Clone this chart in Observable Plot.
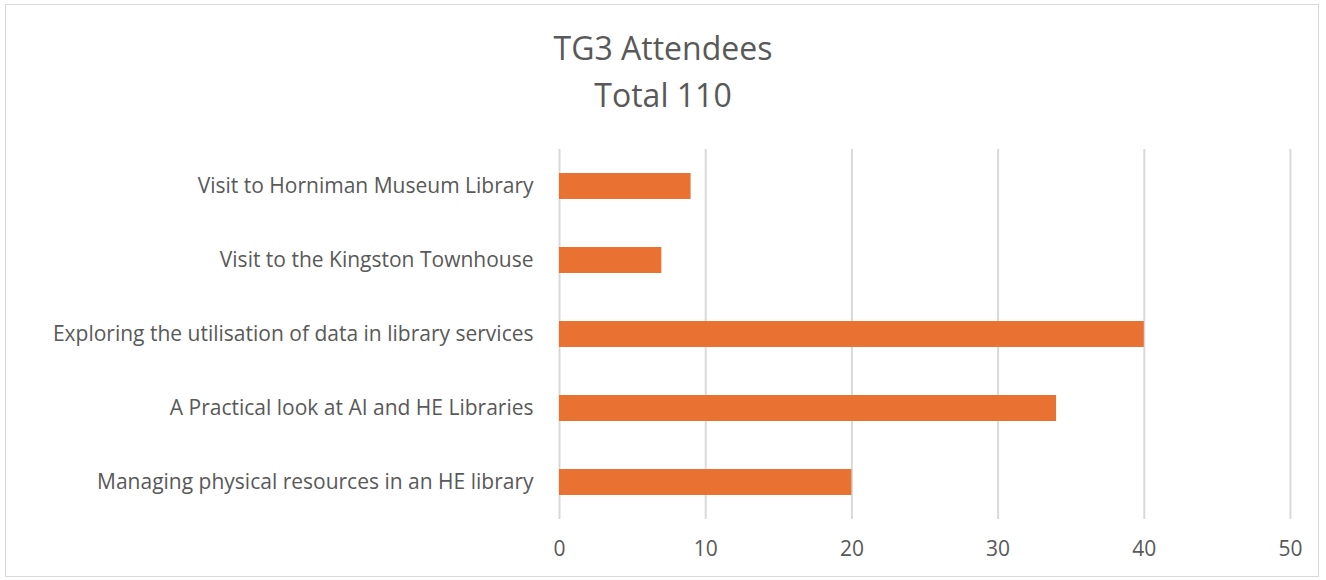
<!DOCTYPE html>
<html>
<head>
<meta charset="utf-8">
<script src="https://cdn.jsdelivr.net/npm/d3@7"></script>
<script src="https://cdn.jsdelivr.net/npm/@observablehq/plot@0.6"></script>
<style>
  html, body { margin: 0; padding: 0; background: #fff; }
  #wrap { position: relative; width: 1326px; height: 580px; font-family: "Open Sans", sans-serif; color: #595959; }
  #frame { position: absolute; left: 5px; top: 4px; width: 1314px; height: 573px; border: 1px solid #d9d9d9; box-sizing: border-box; }
  #title { position: absolute; left: 0; width: 1326px; top: 24px; text-align: center; font-size: 32px; line-height: 47px; color: #595959; }
  #chart { position: absolute; left: 0; top: 0; }
</style>
</head>
<body>
<div id="wrap">
  <div id="frame"></div>
  <div id="chart"></div>
  <div id="title">TG3 Attendees<br>Total 110</div>
</div>
<script>
const categories = [
  "Visit to Horniman Museum Library",
  "Visit to the Kingston Townhouse",
  "Exploring the utilisation of data in library services",
  "A Practical look at AI and HE Libraries",
  "Managing physical resources in an HE library"
];
const attendees = [9, 7, 40, 34, 20];
const xTicks = [0, 10, 20, 30, 40, 50];

const data = categories.map((c, i) => ({category: c, value: attendees[i]}));

const chart = Plot.plot({
  width: 1326,
  height: 580,
  marginTop: 149,
  marginBottom: 61,
  marginLeft: 559,
  marginRight: 36,
  style: {fontFamily: "Open Sans, sans-serif", fontSize: "21px", color: "#595959", background: "transparent"},
  x: {domain: [0, 50], ticks: xTicks, label: null},
  y: {domain: categories, paddingInner: 0.649, paddingOuter: 0.3245, label: null},
  marks: [
    Plot.gridX(xTicks, {stroke: "#d9d9d9", strokeWidth: 2, strokeOpacity: 1}),
    Plot.barX(data, {x: "value", y: "category", fill: "#E97132"}),
    Plot.axisX(xTicks, {tickSize: 0, tickPadding: 22, fontSize: 21, fill: "#595959", label: null}),
    Plot.axisY({tickSize: 0, tickPadding: 26, fontSize: 21, fill: "#595959", label: null})
  ]
});
document.getElementById("chart").appendChild(chart);
</script>
</body>
</html>
